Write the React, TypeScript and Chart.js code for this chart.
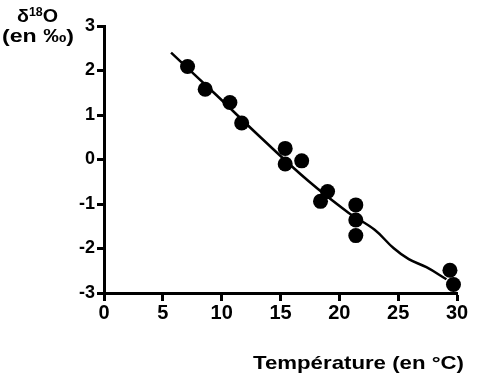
import React, { useEffect, useRef } from "react";
import { Chart, registerables } from "chart.js";

Chart.register(...registerables);

// Measured points: temperature (°C) and δ18O (‰)
const tempC = [7.1, 8.6, 10.7, 11.7, 15.4, 15.4, 16.8, 19.0, 18.4, 21.4, 21.4, 21.4, 29.4, 29.7];
const delta18O = [2.09, 1.58, 1.28, 0.82, 0.25, -0.1, -0.03, -0.72, -0.94, -1.02, -1.36, -1.71, -2.49, -2.81];

// Smoothed trend curve
const curveX = [5.7, 9.5, 13.3, 17.4, 20.8, 23.0, 24.6, 25.9, 27.4, 29.1];
const curveY = [2.4, 1.46, 0.5, -0.49, -1.2, -1.58, -1.99, -2.24, -2.42, -2.69];

const xTicks = [0, 5, 10, 15, 20, 25, 30];
const yTicks = [-3, -2, -1, 0, 1, 2, 3];

const xTitle = "Température (en °C)";
const yTitleMain = ["δ", "18", "O"];
const yTitleUnit = "(en ‰)";

const FONT = '"Liberation Sans", Arial, sans-serif';

const titlesPlugin = {
  id: "titles",
  afterDraw(chart: any) {
    const ctx = chart.ctx as CanvasRenderingContext2D;
    ctx.save();
    ctx.fillStyle = "#000";
    ctx.textBaseline = "alphabetic";
    ctx.textAlign = "left";

    const fitText = (text: string, font: string, x: number, y: number, w: number) => {
      ctx.font = font;
      const m = ctx.measureText(text).width;
      ctx.save();
      ctx.translate(x, y);
      ctx.scale(w / m, 1);
      ctx.fillText(text, 0, 0);
      ctx.restore();
    };

    // x-axis title
    fitText(xTitle, `bold 19px ${FONT}`, 253, 369, 211);

    // y title: δ18O
    const big = `bold 19px ${FONT}`;
    const small = `bold 12px ${FONT}`;
    ctx.font = big;
    const w1 = ctx.measureText(yTitleMain[0]).width;
    const w3 = ctx.measureText(yTitleMain[2]).width;
    ctx.font = small;
    const w2 = ctx.measureText(yTitleMain[1]).width;
    const total = w1 + w2 + w3;
    const sx = 41 / total;
    ctx.save();
    ctx.translate(17, 22);
    ctx.scale(sx, 1);
    ctx.font = big;
    ctx.fillText(yTitleMain[0], 0, 0);
    ctx.font = small;
    ctx.fillText(yTitleMain[1], w1, -6);
    ctx.font = big;
    ctx.fillText(yTitleMain[2], w1 + w2, 0);
    ctx.restore();

    fitText(yTitleUnit, `bold 19px ${FONT}`, 2, 42, 72);
    ctx.restore();
  },
};

export default function App() {
  const ref = useRef<HTMLCanvasElement | null>(null);

  useEffect(() => {
    if (!ref.current) return;
    const chart = new Chart(ref.current, {
      type: "scatter",
      data: {
        datasets: [
          {
            type: "line",
            data: curveX.map((x, i) => ({ x, y: curveY[i] })),
            borderColor: "#000",
            borderWidth: 2.5,
            pointRadius: 0,
            tension: 0.4,
            fill: false,
          } as any,
          {
            type: "scatter",
            data: tempC.map((x, i) => ({ x, y: delta18O[i] })),
            backgroundColor: "#000",
            borderColor: "#000",
            borderWidth: 0,
            pointRadius: 7.5,
            clip: false,
          } as any,
        ],
      },
      options: {
        animation: false,
        responsive: false,
        layout: { padding: { top: 26, right: 20, left: 0, bottom: 0 } },
        plugins: { legend: { display: false }, tooltip: { enabled: false } },
        scales: {
          x: {
            type: "linear",
            min: 0,
            max: 30,
            afterBuildTicks: (s: any) => {
              s.ticks = xTicks.map((v) => ({ value: v }));
            },
            afterFit: (s: any) => {
              s.height = 87;
            },
            ticks: {
              color: "#000",
              font: { family: FONT, size: 20, weight: "bold" },
              padding: 0,
              maxRotation: 0,
            },
            grid: {
              drawOnChartArea: false,
              drawTicks: true,
              tickLength: 8,
              tickWidth: 3,
              tickColor: "#000",
            },
            border: { display: true, width: 3, color: "#000" },
          },
          y: {
            type: "linear",
            min: -3,
            max: 3,
            afterBuildTicks: (s: any) => {
              s.ticks = yTicks.map((v) => ({ value: v }));
            },
            afterFit: (s: any) => {
              s.width = 104;
            },
            ticks: {
              color: "#000",
              font: { family: FONT, size: 18, weight: "bold" },
              padding: 2,
            },
            grid: {
              drawOnChartArea: false,
              drawTicks: true,
              tickLength: 7,
              tickWidth: 3,
              tickColor: "#000",
            },
            border: { display: true, width: 3, color: "#000" },
          },
        },
      },
      plugins: [titlesPlugin],
    });
    return () => chart.destroy();
  }, []);

  return (
    <div style={{ position: "fixed", left: 0, top: 0, width: 477, height: 380, background: "#fff" }}>
      <canvas ref={ref} width={477} height={380} style={{ width: 477, height: 380 }} />
    </div>
  );
}
